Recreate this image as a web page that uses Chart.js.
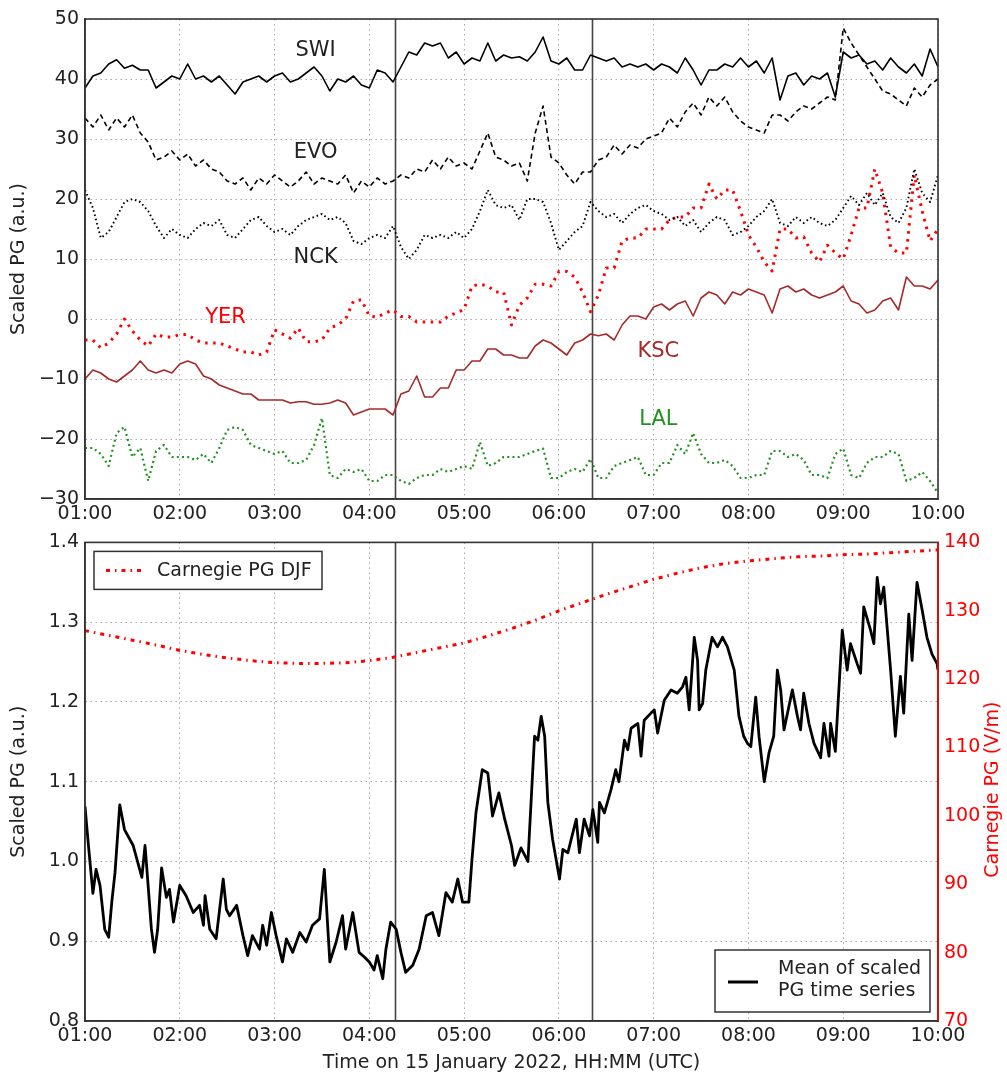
<!DOCTYPE html>
<html><head><meta charset="utf-8">
<script src="https://cdn.jsdelivr.net/npm/chart.js@4/dist/chart.umd.min.js"></script>
<style>
html,body{margin:0;padding:0;background:#fff;}
#wrap{position:relative;width:1007px;height:1077px;overflow:hidden;}
canvas{position:absolute;left:0;}
#c1{top:0;} #c2{top:525px;}
</style></head><body>
<div id="wrap">
<canvas id="c1" width="1007" height="525"></canvas>
<canvas id="c2" width="1007" height="552"></canvas>
</div>
<script>
// ---- time axis (minutes after 01:00 UTC) ----
const hourTicks = ['01:00','02:00','03:00','04:00','05:00','06:00','07:00','08:00','09:00','10:00'];
const topMinutes = Array.from({length:109},(_,i)=>i*5);
const eventMinutes = [196, 321];

// ---- top panel series (scaled PG, a.u.) ----
const swi = [38.5,40.5,41,42.5,43.2,41.8,42.3,41.5,41.5,38.5,39.5,40.5,
 40,42.5,40,40.5,39.5,40.5,39,37.5,39.5,40,40.5,39.5,
 40.5,41,39.5,40,41,42,40.5,38,40,39.5,40.5,39,
 38.5,41.5,41,39.5,42,44.5,44,46,45.5,46,43.5,44.5,
 42.5,43.5,43,46,43,44,43.5,43.7,43,44.5,47,43,
 42.5,43.5,41.5,41.5,44,43.5,43,43.5,42,42.5,42,42.5,
 41.5,42.5,42,41,43.5,41.5,39,41.5,41.5,42.5,42,43.5,
 42,43,41,43.5,36.5,40.5,41,39,40.5,40,41,37,
 44.5,43.5,44,42.5,43,41.5,43.5,42,41,42.5,40.5,45,
 42];
const evo = [33.5,32,34,31.5,33.5,32,34,31,29.5,26.5,27,28,
 26.5,27.5,25.5,26.5,25,24.5,23,22.5,23.5,21.5,23.5,22.5,
 24,23,22,23,24.5,22.5,23.5,23,22.5,24,21,23,
 22,23.5,22.5,23,24,23.5,25,24.5,26.5,25,27,25.5,
 26,25,28,31,27,26.5,25.5,26,23,31,35.5,27,
 26,24,22.5,24.5,24.5,26.5,27,29,27.5,29,28.5,30,
 30.5,31,33.5,32,34.5,36,34,37,35.5,37,34.5,33,
 32,31.5,31,34,34,33,34.5,35.5,35,36,37,36.5,
 48.5,46,44,42,40,38,37.5,36.5,35.5,38.5,37,39,
 40];
const nck = [21.5,18.5,13.5,14.5,17,19.5,20,19.5,18,15.5,13.5,15,
 14,13.5,15,16,15.5,16.5,14,13.5,15,16.5,17,15.5,
 14.5,15,14,15.5,16.5,17,17.5,16.5,17,16,13,12.5,
 13.5,14,13.5,15.5,12,10,11.5,14,13.5,14,13.5,14.5,
 13.5,15,18,21.5,19,18.5,19,16.5,20,20,19.5,16,
 11.5,13,14.5,15.5,19.5,18,17,17.5,16,17.5,18.5,19,
 18,17.5,16.5,17,15.5,16.5,14.5,16,17,16.5,14,14.5,
 15.5,17,18,20,16,15.5,17,16,17,16,15.5,16.5,
 18.5,20.5,19,21,19,21,17,16,18.5,25,21,19.5,
 24];
const yer = [-3.5,-3.5,-4.8,-4,-2.5,0,-2,-3.5,-4.5,-2.5,-3,-3,
 -2.6,-2.6,-3.5,-4,-4,-4,-4.5,-5,-5.5,-5.5,-6,-5.5,
 -1.8,-2.5,-3.2,-1.5,-3.8,-3.8,-3.5,-1.5,-1,0,3,3.2,
 0.5,0.3,1,1.5,0.4,0.4,-0.5,-0.5,-0.5,-0.5,0.5,1,
 1.6,5.5,5.8,5.5,4.5,4.5,-1,2.3,3.5,5.8,5.8,5.5,
 7.9,7.9,7,4.5,1.2,4,8.5,8.5,13,13.5,13.5,15,
 15,15,16.5,17,17,18.5,18.5,22.5,20,21.5,21.5,18,
 14,12,9.5,8,15,15,13.5,13.7,11,9.5,12.3,11,
 10,14,18.5,18.5,25,21,12,11,11,24,18,13,
 15];
const ksc = [-10,-8.5,-9,-10,-10.5,-9.5,-8.5,-7,-8.5,-9,-8.5,-9,
 -7.5,-7,-7.5,-9.5,-10,-11,-11.5,-12,-12.5,-12.5,-13.5,-13.5,
 -13.5,-13.5,-14,-13.8,-13.8,-14.2,-14.2,-14,-13.5,-14,-16,-15.5,
 -15,-15,-15,-16,-12.5,-12,-9.5,-13,-13,-11.5,-11.5,-8.5,
 -8.5,-7,-7,-5,-5,-6,-6,-6.5,-6.5,-4.5,-3.5,-4,
 -5,-6,-4,-3.5,-2.5,-2.8,-2.5,-3.5,-1,0.5,0.5,0,
 2,2.5,1.5,2.5,3,0.5,3.5,4.5,4,2.5,4.5,4,
 5,4.5,4,1,5,5.5,4.5,5,4,3.5,4,4.5,
 5.5,3,2.5,1,1.5,3,3.5,1.5,7,5.5,5.5,5,
 6.5];
const lal = [-21.5,-21.5,-22.5,-24.5,-19,-18,-23,-21.5,-27,-22,-21,-23,
 -23,-23,-23.5,-22.5,-24,-21.5,-18.5,-18,-18.5,-21,-21.5,-22,
 -22.5,-22,-24,-24,-23.5,-21,-16.5,-26,-26.5,-25,-25.5,-25,
 -27,-27,-26,-26,-27,-27.5,-26.5,-26,-26,-25,-25.5,-25,
 -24.5,-25,-20.5,-24.5,-24,-23,-23,-23,-22.5,-22,-21.6,-26.5,
 -26.5,-25.5,-25,-25.5,-23.3,-26.5,-26.5,-24.5,-24,-23.5,-23,-26,
 -26,-24,-24,-21,-22.5,-19,-22.5,-24,-24,-23.5,-24.5,-26.5,
 -26.5,-26,-26,-22,-22,-23,-22.5,-23.5,-26,-26,-26.5,-22.5,
 -21.6,-26,-26.5,-24,-23,-23,-22,-22.5,-27,-26.5,-25.5,-27,
 -29];

// ---- bottom panel series ----
const meanMinutes = [0,2,5,7,9.5,12.5,15,17,19,22,25,30.5,36,38,39,42,44,46,48.5,51.5,53.5,56,60,64,68.5,72.5,75,76,79,83,87.5,89.5,91.5,96,100,103,106,110.5,112.5,115,118,121,125,127.5,131.5,136,140,144,148.5,151.5,154,155,159,163,165,169.5,173.5,177,180,183,185,188.5,190.5,193.5,197,200,203,207.5,211.5,216,220,224,228.5,232.5,236,239,243,245,247.5,251.5,255,258,262,265.7,270,272,276,280.4,284.6,286.7,288.8,291,293,296,300.4,302.5,305.7,311,313,316,319.4,321.5,324.6,325.7,328.8,333,336,338,341.5,343.6,345.7,350,352,354,358.3,360.4,362.5,366.7,371,375,378.3,380.4,382.5,385.7,387.8,388.8,391,393,397,400.4,403.6,406.7,411,414,417,419.4,421.5,424.6,426.7,430,433,436,438.3,440.4,442.5,447.8,451,453,455,458.3,461.5,465.7,467.8,471,472,475,479.4,482.5,484.6,488.8,491,493,497.3,499.4,501.5,503.6,505.7,510,513,516.2,518.3,521.5,523.6,526.7,530,533,536.2,539.4,540];
const meanValues = [1.069,1.024,0.96,0.99,0.97,0.915,0.905,0.95,0.986,1.071,1.04,1.02,0.98,1.02,0.995,0.916,0.886,0.915,0.992,0.955,0.965,0.924,0.97,0.957,0.936,0.945,0.92,0.957,0.915,0.903,0.978,0.94,0.932,0.945,0.907,0.882,0.907,0.89,0.92,0.895,0.936,0.907,0.874,0.903,0.886,0.911,0.899,0.92,0.928,0.99,0.907,0.874,0.899,0.932,0.89,0.936,0.886,0.88,0.874,0.864,0.882,0.853,0.89,0.924,0.915,0.886,0.861,0.87,0.89,0.932,0.936,0.907,0.961,0.949,0.978,0.949,0.949,1.003,1.061,1.115,1.111,1.057,1.086,1.053,1.02,0.995,1.017,1.0,1.157,1.152,1.182,1.157,1.074,1.028,0.978,1.015,1.011,1.053,1.011,1.053,1.032,1.065,1.024,1.074,1.061,1.09,1.115,1.1,1.152,1.14,1.167,1.173,1.132,1.177,1.186,1.19,1.161,1.202,1.215,1.211,1.219,1.231,1.19,1.281,1.252,1.19,1.198,1.24,1.281,1.269,1.281,1.269,1.24,1.182,1.157,1.148,1.144,1.206,1.157,1.1,1.136,1.157,1.24,1.215,1.165,1.215,1.182,1.165,1.211,1.173,1.148,1.13,1.173,1.132,1.173,1.138,1.29,1.24,1.273,1.248,1.236,1.319,1.29,1.273,1.356,1.323,1.344,1.24,1.157,1.232,1.186,1.31,1.252,1.35,1.315,1.281,1.26,1.248,1.24];
const carnegieMinutes = [0,15,30,45,60,75,90,105,120,135,150,165,180,195,210,225,240,255,270,285,300,315,330,345,360,375,390,405,420,435,450,465,480,495,510,525,540];
const carnegieValues = [127.1,126.4,125.7,125.0,124.2,123.6,123.1,122.7,122.4,122.3,122.3,122.4,122.7,123.2,123.9,124.6,125.3,126.3,127.4,128.6,130.0,131.2,132.4,133.5,134.6,135.5,136.3,136.9,137.3,137.6,137.9,138.0,138.2,138.3,138.5,138.7,138.9];

// ---- styling ----
const FONT = '"DejaVu Sans", "Liberation Sans", sans-serif';
const TXT = '#222';
const GRID = '#a8a8a8';
const GRID_DASH = [1.5,3.5];
const FRAME = '#333';
const RED = '#ff0000';
const BROWN = '#a52a2a';
const GREEN = '#1f931f';

const stationLabels = [
  {text:'SWI', x:146, y:44.7, color:TXT},
  {text:'EVO', x:146, y:27.7, color:TXT},
  {text:'NCK', x:146, y:10.2, color:TXT},
  {text:'YER', x:89,  y:0.2,  color:RED},
  {text:'KSC', x:363, y:-5.5, color:BROWN},
  {text:'LAL', x:363, y:-16.8, color:GREEN}
];

const pts = (xs, ys) => ys.map((v,i)=>({x:xs[i], y:v}));
const fmtMin = v => hourTicks[Math.round(v/60)] || '';
const fmtSigned = v => v < 0 ? '\u2212' + Math.abs(v) : String(v);

function xAxis(height, title) {
  return {
    type:'linear', min:0, max:540, position:'bottom',
    ticks:{stepSize:60, autoSkip:false, maxRotation:0, color:TXT, padding:4,
           font:{family:FONT,size:19}, callback:v=>fmtMin(v)},
    grid:{color:GRID, lineWidth:1, drawTicks:false},
    border:{display:true, color:FRAME, width:1.5, dash:GRID_DASH},
    title: title ? {display:true, text:title, color:TXT, font:{family:FONT,size:19}, padding:{top:0,bottom:3}} : {display:false},
    afterFit(s){ s.height = height; }
  };
}

const eventPlugin = {
  id:'events',
  beforeDatasetsDraw(chart){
    const {ctx, chartArea:ca, scales:{x}} = chart;
    ctx.save();
    ctx.strokeStyle = '#444'; ctx.lineWidth = 1.6;
    eventMinutes.forEach(m=>{
      const px = Math.round(x.getPixelForValue(m)) + 0.5;
      ctx.beginPath(); ctx.moveTo(px, ca.top); ctx.lineTo(px, ca.bottom); ctx.stroke();
    });
    ctx.restore();
  }
};
const framePlugin = {
  id:'frame',
  afterDraw(chart, args, opts){
    const {ctx, chartArea:ca} = chart;
    ctx.save();
    ctx.strokeStyle = FRAME; ctx.lineWidth = 1.6;
    ctx.strokeRect(ca.left, ca.top, ca.right-ca.left, ca.bottom-ca.top);
    if (opts.rightColor) {
      ctx.strokeStyle = opts.rightColor;
      ctx.beginPath(); ctx.moveTo(ca.right, ca.top); ctx.lineTo(ca.right, ca.bottom); ctx.stroke();
    }
    ctx.restore();
  }
};
const labelPlugin = {
  id:'stationLabels',
  afterDatasetsDraw(chart){
    const {ctx, scales:{x,y}} = chart;
    ctx.save();
    ctx.font = '21px ' + FONT; ctx.textAlign='center'; ctx.textBaseline='middle';
    stationLabels.forEach(l=>{
      ctx.fillStyle = l.color;
      ctx.fillText(l.text, x.getPixelForValue(l.x), y.getPixelForValue(l.y));
    });
    ctx.restore();
  }
};

const CARNEGIE_DASH = [4,5,1.5,5];
const legendPlugin = {
  id:'customLegend',
  afterDraw(chart){
    const {ctx, chartArea:ca} = chart;
    ctx.save();
    ctx.font = '19px ' + FONT; ctx.textBaseline='middle'; ctx.textAlign='left';
    // Carnegie legend (upper left)
    let bx = ca.left + 9, by = ca.top + 9, bw = 228, bh = 38;
    ctx.fillStyle='#fff'; ctx.fillRect(bx,by,bw,bh);
    ctx.strokeStyle=FRAME; ctx.lineWidth=1.5; ctx.strokeRect(bx,by,bw,bh);
    ctx.strokeStyle=RED; ctx.lineWidth=3; ctx.setLineDash(CARNEGIE_DASH);
    ctx.beginPath(); ctx.moveTo(bx+12, by+bh/2); ctx.lineTo(bx+50, by+bh/2); ctx.stroke();
    ctx.setLineDash([]);
    ctx.fillStyle=TXT; ctx.fillText('Carnegie PG DJF', bx+63, by+bh/2+1);
    // Mean legend (lower right)
    bw = 215; bh = 62; bx = ca.right - 8 - bw; by = ca.bottom - 9 - bh;
    ctx.fillStyle='#fff'; ctx.fillRect(bx,by,bw,bh);
    ctx.strokeStyle=FRAME; ctx.lineWidth=1.5; ctx.strokeRect(bx,by,bw,bh);
    ctx.strokeStyle='#000'; ctx.lineWidth=3;
    ctx.beginPath(); ctx.moveTo(bx+13, by+32); ctx.lineTo(bx+43, by+32); ctx.stroke();
    ctx.fillStyle=TXT;
    ctx.fillText('Mean of scaled', bx+63, by+19);
    ctx.fillText('PG time series', bx+63, by+41);
    // right axis title (reads bottom-to-top)
    ctx.save();
    ctx.translate(993, (ca.top+ca.bottom)/2 + 8);
    ctx.rotate(-Math.PI/2);
    ctx.textAlign='center'; ctx.fillStyle=RED;
    ctx.fillText('Carnegie PG (V/m)', 0, 0);
    ctx.restore();
    ctx.restore();
  }
};

const lineDs = (label, data, color, width, dash, axis) => ({
  label, data, borderColor:color, borderWidth:width, borderDash:dash||[],
  pointRadius:0, tension:0, fill:false, yAxisID: axis||'y', borderCapStyle:'butt', borderJoinStyle:'round'
});

// ---- top chart ----
new Chart(document.getElementById('c1'), {
  type:'line',
  data:{datasets:[
    lineDs('SWI', pts(topMinutes, swi), '#000', 1.6),
    lineDs('EVO', pts(topMinutes, evo), '#000', 1.6, [5,3.5]),
    lineDs('NCK', pts(topMinutes, nck), '#000', 1.9, [1.6,2.8]),
    lineDs('YER', pts(topMinutes, yer), RED, 3, [2.5,5.5]),
    lineDs('KSC', pts(topMinutes, ksc), BROWN, 1.6),
    lineDs('LAL', pts(topMinutes, lal), GREEN, 2.2, [2,3.2])
  ]},
  options:{
    responsive:false, animation:false, events:[],
    layout:{padding:{left:0,right:69,top:19,bottom:0}},
    plugins:{legend:{display:false}, tooltip:{enabled:false}},
    scales:{
      x: xAxis(26, null),
      y:{type:'linear', min:-30, max:50, position:'left',
         ticks:{stepSize:10, color:TXT, padding:6, font:{family:FONT,size:19}, callback:v=>fmtSigned(v)},
         grid:{color:GRID, lineWidth:1, drawTicks:false},
         border:{display:true, color:FRAME, width:1.5, dash:GRID_DASH},
         title:{display:true, text:'Scaled PG (a.u.)', color:TXT, font:{family:FONT,size:19}, padding:{top:8,bottom:0}},
         afterFit(s){ s.width = 85; }}
    }
  },
  plugins:[eventPlugin, labelPlugin, framePlugin]
});

// ---- bottom chart ----
new Chart(document.getElementById('c2'), {
  type:'line',
  data:{datasets:[
    lineDs('Mean of scaled PG time series', pts(meanMinutes, meanValues), '#000', 2.8),
    lineDs('Carnegie PG DJF', pts(carnegieMinutes, carnegieValues), RED, 3, CARNEGIE_DASH, 'y2')
  ]},
  options:{
    responsive:false, animation:false, events:[],
    layout:{padding:{left:0,right:0,top:15,bottom:0}},
    plugins:{legend:{display:false}, tooltip:{enabled:false}, frame:{rightColor:RED}},
    scales:{
      x: xAxis(56, 'Time on 15 January 2022, HH:MM (UTC)'),
      y:{type:'linear', min:0.8, max:1.4, position:'left',
         ticks:{stepSize:0.1, color:TXT, padding:6, font:{family:FONT,size:19}, callback:v=>v.toFixed(1)},
         grid:{color:GRID, lineWidth:1, drawTicks:false},
         border:{display:true, color:FRAME, width:1.5, dash:GRID_DASH},
         title:{display:true, text:'Scaled PG (a.u.)', color:TXT, font:{family:FONT,size:19}, padding:{top:8,bottom:0}},
         afterFit(s){ s.width = 85; }},
      y2:{type:'linear', min:70, max:140, position:'right',
         ticks:{stepSize:10, color:RED, padding:6, font:{family:FONT,size:19}},
         grid:{drawOnChartArea:false, drawTicks:false},
         border:{display:true, color:RED, width:1.5},
         afterFit(s){ s.width = 69; }}
    }
  },
  plugins:[eventPlugin, legendPlugin, framePlugin]
});
</script>
</body></html>
